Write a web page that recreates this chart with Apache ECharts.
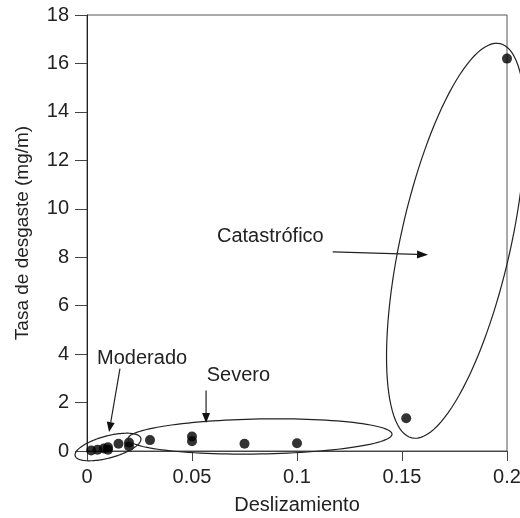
<!DOCTYPE html>
<html><head><meta charset="utf-8">
<script src="https://cdn.jsdelivr.net/npm/echarts@6/dist/echarts.min.js"></script>
<style>html,body{margin:0;padding:0;background:#fff}#c{width:520px;height:518px}</style>
</head><body><div id="c"></div>
<script>
// Data (deslizamiento, tasa de desgaste mg/m)
const slip = [0.002, 0.005, 0.008, 0.010, 0.010, 0.015, 0.020, 0.020, 0.030, 0.050, 0.050, 0.075, 0.100, 0.152, 0.200];
const wear = [0.02, 0.05, 0.10, 0.05, 0.15, 0.30, 0.20, 0.35, 0.45, 0.60, 0.40, 0.30, 0.32, 1.35, 16.2];
const xTicks = [0, 0.05, 0.1, 0.15, 0.2];
const yTicks = [0, 2, 4, 6, 8, 10, 12, 14, 16, 18];
const labels = ['Moderado', 'Severo', 'Catastrófico'];

const FONT = 'Liberation Sans, Arial, sans-serif';
const chart = echarts.init(document.getElementById('c'), null, {renderer: 'canvas'});
const points = slip.map((x, i) => [x, wear[i]]);

chart.setOption({
  animation: false,
  backgroundColor: '#fff',
  grid: {left: 87, right: 13, top: 15, bottom: 67, containLabel: false, outerBoundsMode: 'none',
    show: true, borderColor: '#555', borderWidth: 1},
  xAxis: {
    type: 'value', min: xTicks[0], max: xTicks[xTicks.length - 1], interval: xTicks[1] - xTicks[0],
    name: 'Deslizamiento', nameLocation: 'middle', nameGap: 44,
    nameTextStyle: {fontFamily: FONT, fontSize: 20, color: '#222'},
    axisLine: {show: true, onZero: false, lineStyle: {color: '#444', width: 1}},
    axisTick: {show: true, inside: false, length: 10, lineStyle: {color: '#444'}},
    axisLabel: {fontFamily: FONT, fontSize: 20, color: '#222', margin: 16, hideOverlap: false,
      formatter: v => String(+v.toFixed(2))},
    splitLine: {show: false}
  },
  yAxis: {
    type: 'value', min: yTicks[0], max: yTicks[yTicks.length - 1], interval: yTicks[1] - yTicks[0],
    name: 'Tasa de desgaste (mg/m)', nameLocation: 'middle', nameGap: 55,
    nameTextStyle: {fontFamily: FONT, fontSize: 19, color: '#222'},
    axisLine: {show: true, lineStyle: {color: '#222', width: 1}},
    axisTick: {show: true, inside: false, length: 12, lineStyle: {color: '#444'}},
    axisLabel: {fontFamily: FONT, fontSize: 20, color: '#222', margin: 18},
    splitLine: {show: false}
  },
  series: [{
    type: 'scatter', data: points, symbol: 'circle', symbolSize: 10,
    itemStyle: {color: '#000'}, clip: false, z: 5
  }]
});

// Annotation layout (data-coordinate anchors)
const P = (x, y) => chart.convertToPixel({gridIndex: 0}, [x, y]);
function ellipse(cx, cy, a, b, phiDeg) {
  const c = P(cx, cy), phi = phiDeg * Math.PI / 180;
  const ux = Math.cos(phi), uy = -Math.sin(phi), vx = Math.sin(phi), vy = Math.cos(phi);
  const pts = [];
  for (let i = 0; i < 120; i++) {
    const t = i / 120 * Math.PI * 2;
    const u = a * Math.cos(t), v = b * Math.sin(t);
    pts.push([c[0] + u * ux + v * vx, c[1] + u * uy + v * vy]);
  }
  return {type: 'polygon', shape: {points: pts}, style: {fill: null, stroke: '#222', lineWidth: 1.2}, z: 10};
}
function arrow(x1, y1, x2, y2, head) {
  const p1 = P(x1, y1), p2 = P(x2, y2);
  const dx = p2[0] - p1[0], dy = p2[1] - p1[1], L = Math.hypot(dx, dy);
  const ux = dx / L, uy = dy / L, nx = -uy, ny = ux;
  const h = head || 9, w = 4;
  const base = [p2[0] - ux * h, p2[1] - uy * h];
  return [
    {type: 'line', shape: {x1: p1[0], y1: p1[1], x2: base[0], y2: base[1]}, style: {stroke: '#222', lineWidth: 1.2}, z: 10},
    {type: 'polygon', shape: {points: [p2, [base[0] + nx * w, base[1] + ny * w], [base[0] - nx * w, base[1] - ny * w]]}, style: {fill: '#111'}, z: 10}
  ];
}
function label(text, x, y) {
  const p = P(x, y);
  return {type: 'text', x: p[0], y: p[1], style: {text: text, fontFamily: FONT, fontSize: 20, fill: '#222', verticalAlign: 'middle', align: 'left'}, z: 11};
}

const elements = [
  ellipse(0.0100, 0.165, 34, 11, 15),
  ellipse(0.0824, 0.60, 132, 17.5, 1),
  ellipse(0.1757, 8.68, 202, 55, 77.4),
  ...arrow(0.0157, 3.40, 0.0105, 0.78, 10),
  ...arrow(0.0567, 2.50, 0.0567, 1.16, 10),
  ...arrow(0.1170, 8.22, 0.1624, 8.10, 11),
  label(labels[0], 0.0048, 3.80),
  label(labels[1], 0.0570, 3.10),
  label(labels[2], 0.0619, 8.84)
];
chart.setOption({graphic: {elements: elements}});
</script>
</body></html>
